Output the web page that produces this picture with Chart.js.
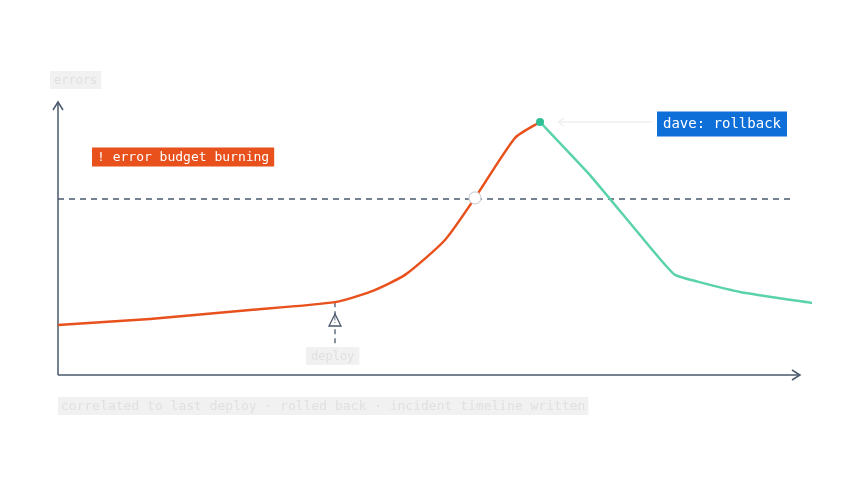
<!DOCTYPE html>
<html><head><meta charset="utf-8">
<script src="https://cdn.jsdelivr.net/npm/chart.js@4/dist/chart.umd.min.js"></script>
<style>html,body{margin:0;background:#fff}#w{width:848px;height:484px}</style></head>
<body><div id="w"><canvas id="c"></canvas></div>
<script>
const burnX=[0,92,192,277,312,347,387,417,457,482];
const burnY=[18.2,20.4,23.6,26.5,30.2,36.4,49.1,64.4,86.2,92];
const recX=[482,532,582,617,682,754];
const recY=[92,72.7,50.9,36.4,30.2,26.2];
const threshold=64;
const deployX=277, crossX=417, crossY=64.4, peakX=482, peakY=92;
const yTitle="errors";
const footer="correlated to last deploy · rolled back · incident timeline written";
const MONO="'DejaVu Sans Mono', monospace";
function box(ctx,t,x,y,bg,fg,font,pad,h){ctx.font=font;const w=ctx.measureText(t).width;ctx.fillStyle=bg;ctx.fillRect(x,y-h/2,w+pad*2,h);ctx.fillStyle=fg;ctx.textBaseline='middle';ctx.fillText(t,x+pad,y+0.5);}
const deco={id:'deco',beforeDatasetsDraw(ch){const c=ch.ctx,xs=ch.scales.x,ys=ch.scales.y;const L=xs.getPixelForValue(0),B=ys.getPixelForValue(0);
c.save();c.strokeStyle='#4b5a6e';c.lineWidth=1.5;
c.beginPath();c.moveTo(L,B);c.lineTo(800,B);c.moveTo(L,B);c.lineTo(L,102);c.stroke();
c.beginPath();c.moveTo(792,370);c.lineTo(800,B);c.lineTo(792,380);c.moveTo(53,110);c.lineTo(L,102);c.lineTo(63,110);c.stroke();
const ty=ys.getPixelForValue(threshold);c.setLineDash([6,5]);c.lineWidth=1.3;c.beginPath();c.moveTo(L,ty);c.lineTo(792,ty);c.stroke();
const dx=xs.getPixelForValue(deployX),dy=ys.getPixelForValue(26.5);c.setLineDash([5,4]);c.beginPath();c.moveTo(dx,dy);c.lineTo(dx,348);c.stroke();c.setLineDash([]);
c.fillStyle='#fff';c.beginPath();c.moveTo(dx,314);c.lineTo(dx-6,326);c.lineTo(dx+6,326);c.closePath();c.fill();c.stroke();
c.fillStyle='#4b5a6e';c.font='8px '+MONO;c.textAlign='center';c.textBaseline='middle';c.fillText('!',dx,321);c.textAlign='left';
c.strokeStyle='#e4e7eb';c.lineWidth=1;c.beginPath();c.moveTo(560,122);c.lineTo(652,122);c.stroke();
c.beginPath();c.moveTo(564,118);c.lineTo(558,122);c.lineTo(564,126);c.stroke();
box(c,yTitle,50,80,'#f1f1f1','#e0e0e0','12px '+MONO,4,18);
box(c,footer,58,406,'#f1f1f1','#e0e0e0','13px '+MONO,3,18);
box(c,'deploy',306,356,'#f1f1f1','#e0e0e0','12px '+MONO,5,18);
box(c,'! error budget burning',92,157,'#e8501c','#fff','13px '+MONO,5,19);
box(c,'dave: rollback',657,124,'#0f6fd8','#fff','14px '+MONO,6,25);
c.restore();},
afterDatasetsDraw(ch){const c=ch.ctx,xs=ch.scales.x,ys=ch.scales.y;c.save();
c.fillStyle='#fff';c.strokeStyle='#d0d4d9';c.lineWidth=1.2;c.beginPath();c.arc(xs.getPixelForValue(crossX),ys.getPixelForValue(crossY),6,0,7);c.fill();c.stroke();
c.fillStyle='#2fbf94';c.beginPath();c.arc(xs.getPixelForValue(peakX),ys.getPixelForValue(peakY),4,0,7);c.fill();c.restore();}};
new Chart(document.getElementById('c'),{type:'line',data:{datasets:[
{data:burnX.map((x,i)=>({x,y:burnY[i]})),borderColor:'#e8501c',borderWidth:2.5,tension:0.2,pointRadius:0},
{data:recX.map((x,i)=>({x,y:recY[i]})),borderColor:'#5ad3a8',borderWidth:2.5,tension:0.1,pointRadius:0}]},
options:{responsive:true,maintainAspectRatio:false,animation:false,layout:{padding:{left:58,right:36,top:100,bottom:109}},
plugins:{legend:{display:false},tooltip:{enabled:false}},
scales:{x:{type:'linear',min:0,max:754,display:false},y:{min:0,max:100,display:false}}},plugins:[deco]});
</script></body></html>
